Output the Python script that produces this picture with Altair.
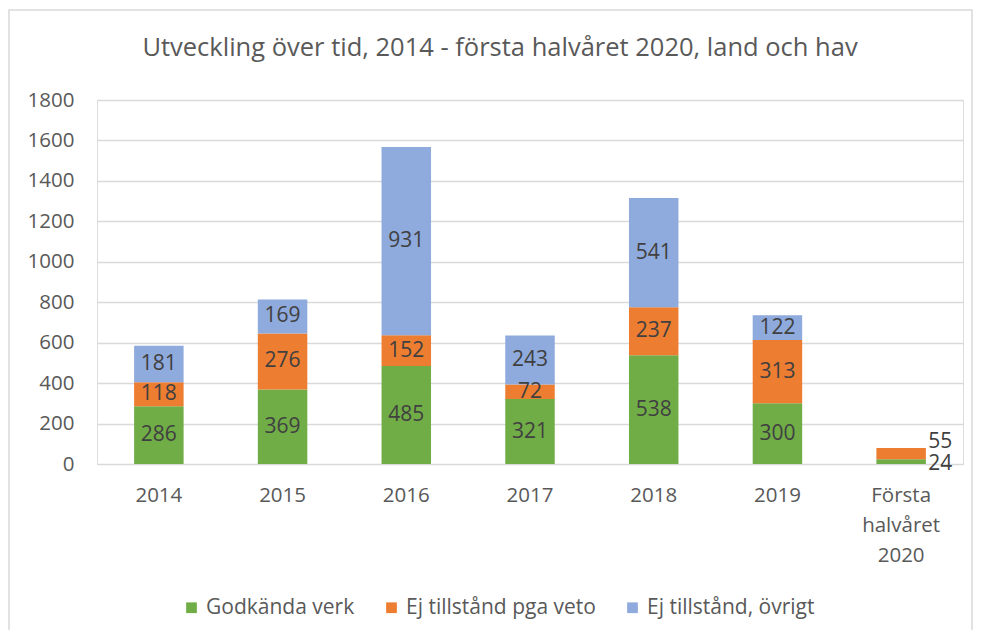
import altair as alt
import pandas as pd

years = ["2014", "2015", "2016", "2017", "2018", "2019", "Första halvåret 2020"]
godkanda = [286, 369, 485, 321, 538, 300, 24]
veto = [118, 276, 152, 72, 237, 313, 55]
ovrigt = [181, 169, 931, 243, 541, 122, 0]
series = ["Godkända verk", "Ej tillstånd pga veto", "Ej tillstånd, övrigt"]
colors = ["#70AD47", "#ED7D31", "#8FAADC"]

rows = []
for i, y in enumerate(years):
    for k, (s, vals) in enumerate(zip(series, [godkanda, veto, ovrigt])):
        rows.append({"year": y, "series": s, "value": vals[i], "order": k})
df = pd.DataFrame(rows)

FONT = "Open Sans"
TXT = "#595959"
last = years[-1]

base = alt.Chart(df).transform_stack(
    stack="value", groupby=["year"], sort=[alt.SortField("order")], as_=["v0", "v1"]
).transform_calculate(mid="(datum.v0 + datum.v1) / 2")

x = alt.X("year:N", sort=years, title=None,
          scale=alt.Scale(paddingInner=0.6, paddingOuter=0.3),
          axis=alt.Axis(labelAngle=0, labelFontSize=20.5, labelColor=TXT, labelFont=FONT,
                        ticks=False, domain=False, labelPadding=21, labelLineHeight=30,
                        labelExpr="datum.label == 'Första halvåret 2020' ? ['Första','halvåret','2020'] : datum.label"))

bars = base.mark_bar().encode(
    x=x,
    y=alt.Y("v0:Q", title=None, scale=alt.Scale(domain=[0, 1800]),
            axis=alt.Axis(values=list(range(0, 1801, 200)), format="d", labelFontSize=20.5, labelColor=TXT,
                          labelFont=FONT, ticks=False, domain=False, labelPadding=23,
                          gridColor="#D9D9D9", gridWidth=1.5)),
    y2="v1:Q",
    color=alt.Color("series:N", sort=series, scale=alt.Scale(domain=series, range=colors),
                    legend=alt.Legend(title=None, orient="none", direction="horizontal",
                                      legendX=84, legendY=497, symbolType="square", symbolSize=115,
                                      symbolStrokeWidth=0, labelFontSize=21, labelColor=TXT,
                                      labelFont=FONT, labelLimit=400, columnPadding=26, symbolOffset=0)),
)

labels = base.mark_text(fontSize=21, color="#404040", font=FONT).encode(
    x=alt.X("year:N", sort=years),
    y="mid:Q",
    text="value:Q",
).transform_filter(f"datum.value > 0 && datum.year != '{last}'")

last_green = base.mark_text(fontSize=21, color="#404040", font=FONT, dx=39, dy=2).encode(
    x=alt.X("year:N", sort=years), y="mid:Q", text="value:Q"
).transform_filter(f"datum.year == '{last}' && datum.order == 0")

last_orange = base.mark_text(fontSize=21, color="#404040", font=FONT, dx=39, dy=-12).encode(
    x=alt.X("year:N", sort=years), y="mid:Q", text="value:Q"
).transform_filter(f"datum.year == '{last}' && datum.order == 1")

frame = alt.Chart(pd.DataFrame({"a": [0]})).mark_rect(fill=None, stroke="#D9D9D9", strokeWidth=1.5).encode(
    x=alt.value(-88), x2=alt.value(875), y=alt.value(-90), y2=alt.value(560)
)

chart = alt.layer(frame, bars, labels, last_green, last_orange).properties(
    width=866, height=364,
    title=alt.TitleParams("Utveckling över tid, 2014 - första halvåret 2020, land och hav",
                          fontSize=25.5, fontWeight="normal", color=TXT, font=FONT,
                          anchor="middle", frame="group", dx=-30, offset=0, dy=52),
    autosize=alt.AutoSizeParams(type="none"),
    padding={"left": 89, "top": 92, "right": 11, "bottom": 166},
).configure_view(stroke=None).configure(background="white")

chart.save("out.html", embed_options={"renderer": "svg", "actions": False})
